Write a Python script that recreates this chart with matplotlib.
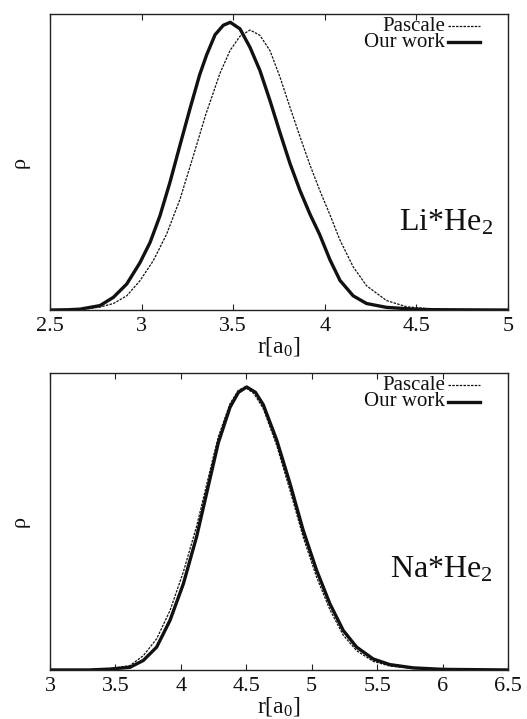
import matplotlib
matplotlib.use("Agg")
import matplotlib.pyplot as plt

plt.rcParams['font.family'] = ['Liberation Serif', 'DejaVu Serif']
plt.rcParams['mathtext.fontset'] = 'custom'
plt.rcParams['mathtext.rm'] = 'Liberation Serif'
plt.rcParams['mathtext.it'] = 'Liberation Serif:italic'

# Li*He2 data
li_r_our = [2.5, 2.6, 2.664, 2.773, 2.846, 2.919, 2.991, 3.046, 3.100, 3.155, 3.210, 3.264, 3.317, 3.355, 3.401,
            3.446, 3.484, 3.537, 3.592, 3.646, 3.701, 3.756, 3.810, 3.865, 3.919, 3.972, 4.028, 4.083, 4.155,
            4.228, 4.337, 4.483, 4.6, 5.0]
li_rho_our = [0.0, 0.001, 0.003, 0.015, 0.043, 0.088, 0.160, 0.228, 0.318, 0.432, 0.558, 0.680, 0.795, 0.862, 0.930,
              0.962, 0.972, 0.950, 0.887, 0.809, 0.707, 0.598, 0.495, 0.403, 0.324, 0.255, 0.170, 0.100, 0.048,
              0.022, 0.009, 0.003, 0.001, 0.0]
li_r_pas = [2.5, 2.6, 2.7, 2.773, 2.846, 2.919, 2.991, 3.064, 3.137, 3.210, 3.282, 3.35, 3.428, 3.483,
            3.537, 3.592, 3.646, 3.701, 3.756, 3.810, 3.865, 3.919, 3.972, 4.028, 4.083, 4.155, 4.228, 4.337,
            4.447, 4.556, 4.7, 5.0]
li_rho_pas = [0.0, 0.001, 0.004, 0.01, 0.022, 0.048, 0.099, 0.167, 0.257, 0.375, 0.520, 0.660, 0.800, 0.877,
              0.925, 0.946, 0.928, 0.876, 0.786, 0.685, 0.585, 0.490, 0.405, 0.322, 0.236, 0.146, 0.082, 0.032,
              0.011, 0.005, 0.002, 0.0]

# Na*He2 data
na_r_our = [3.0, 3.3, 3.459, 3.611, 3.713, 3.815, 3.917, 4.019, 4.121, 4.223, 4.286, 4.376, 4.44, 4.503, 4.57,
            4.630, 4.732, 4.834, 4.935, 5.037, 5.139, 5.241, 5.343, 5.470, 5.598, 5.776, 6.005, 6.5]
na_rho_our = [0.0, 0.0, 0.003, 0.009, 0.032, 0.077, 0.167, 0.29, 0.45, 0.645, 0.765, 0.885, 0.935, 0.953, 0.935,
              0.893, 0.775, 0.628, 0.47, 0.336, 0.223, 0.133, 0.077, 0.037, 0.018, 0.007, 0.002, 0.0]
na_r_pas = [3.0, 3.3, 3.459, 3.611, 3.713, 3.815, 3.917, 4.019, 4.121, 4.223, 4.286, 4.376, 4.44, 4.49, 4.56,
            4.630, 4.732, 4.834, 4.935, 5.037, 5.139, 5.241, 5.343, 5.470, 5.598, 5.776, 6.005, 6.5]
na_rho_pas = [0.0, 0.0, 0.004, 0.015, 0.048, 0.105, 0.20, 0.33, 0.485, 0.672, 0.785, 0.897, 0.942, 0.953, 0.93,
              0.88, 0.757, 0.605, 0.447, 0.313, 0.203, 0.117, 0.065, 0.029, 0.013, 0.005, 0.001, 0.0]

li_ticks = [2.5, 3, 3.5, 4, 4.5, 5]
li_ticklabels = ['2.5', '3', '3.5', '4', '4.5', '5']
na_ticks = [3, 3.5, 4, 4.5, 5, 5.5, 6, 6.5]
na_ticklabels = ['3', '3.5', '4', '4.5', '5', '5.5', '6', '6.5']
series_labels = ['Pascale', 'Our work']

fig = plt.figure(figsize=(5.27, 7.19), dpi=100)
ax1 = fig.add_axes([0.0949, 0.5688, 0.869, 0.4117])
ax2 = fig.add_axes([0.0949, 0.0682, 0.869, 0.4130])

panels = [
    (ax1, li_r_pas, li_rho_pas, li_r_our, li_rho_our, (2.5, 5), li_ticks, li_ticklabels, r'Li*He$_2$', 0.27),
    (ax2, na_r_pas, na_rho_pas, na_r_our, na_rho_our, (3, 6.5), na_ticks, na_ticklabels, r'Na*He$_2$', 0.313),
]

dash = (0, (2.0, 1.0))
for ax, rp, yp, ro, yo, xlim, ticks, tlabels, name, ny in panels:
    ax.plot(rp, yp, color='#111111', lw=0.9, linestyle=dash)
    ax.plot(ro, yo, color='#111111', lw=2.4)
    ax.set_xlim(*xlim)
    ax.set_ylim(0, 1.0)
    ax.set_xticks(ticks)
    ax.set_xticklabels(tlabels)
    ax.set_yticks([])
    ax.tick_params(axis='x', direction='in', length=4, width=0.8, top=True, labelsize=16, pad=5,
                   colors='#222222', labelcolor='#111111')
    for s in ax.spines.values():
        s.set_linewidth(1.0)
        s.set_color('#222222')
    ax.set_xlabel(r'r[a$_0$]', fontsize=17, labelpad=-1, color='#111111')
    ax.set_ylabel('\u03c1', fontsize=16, rotation=90, labelpad=15, color='#111111')
    ax.text(0.967, ny, name, transform=ax.transAxes, ha='right', va='baseline', fontsize=23, color='#111111')
    # legend (text + sample lines)
    ax.text(0.862, 0.93, series_labels[0] + '\n' + series_labels[1], transform=ax.transAxes,
            ha='right', va='center', multialignment='right', fontsize=15, linespacing=0.78, color='#111111')
    ax.plot([0.868, 0.939], [0.958, 0.958], transform=ax.transAxes, color='#111111', lw=0.9, linestyle=dash)
    ax.plot([0.868, 0.939], [0.904, 0.904], transform=ax.transAxes, color='#111111', lw=2.4)

fig.savefig('out.png', dpi=100)
